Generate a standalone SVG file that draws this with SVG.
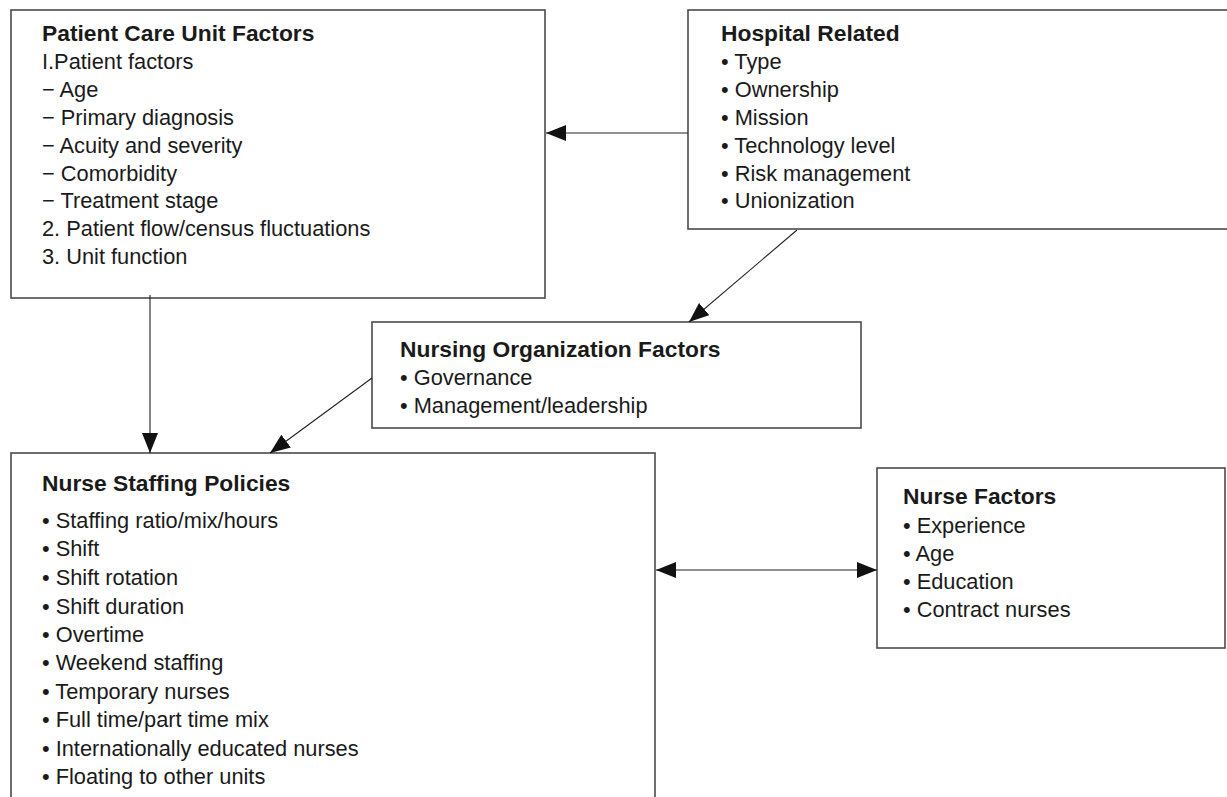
<svg xmlns="http://www.w3.org/2000/svg" width="1227" height="797" viewBox="0 0 1227 797">
<style>
.box{fill:#fff;stroke:#4a4a4a;stroke-width:1.6}
.t{font-family:"Liberation Sans",Arial,sans-serif;font-size:21.8px;fill:#1a1a1a}
.h{font-family:"Liberation Sans",Arial,sans-serif;font-size:22.8px;font-weight:bold;fill:#1a1a1a}
.c{stroke:#222;stroke-width:1.1;fill:none}
</style>
<defs>
<marker id="ah" markerUnits="userSpaceOnUse" markerWidth="22" markerHeight="16" refX="20" refY="8" orient="auto-start-reverse">
<path d="M0,0 L20,8 L0,16 z" fill="#111"/>
</marker>
</defs>
<rect width="1227" height="797" fill="#fff"/>
<g id="pcu">
<rect class="box" x="11" y="10" width="534" height="288"/>
<text class="h" x="42" y="41">Patient Care Unit Factors</text>
<text class="t" x="42" y="69">I.Patient factors</text>
<text class="t" x="42" y="97">− Age</text>
<text class="t" x="42" y="125">−  Primary diagnosis</text>
<text class="t" x="42" y="153">− Acuity and severity</text>
<text class="t" x="42" y="181">−  Comorbidity</text>
<text class="t" x="42" y="208">− Treatment stage</text>
<text class="t" x="42" y="236">2. Patient flow/census fluctuations</text>
<text class="t" x="42" y="264">3. Unit function</text>
</g>
<g id="hospital">
<rect class="box" x="688" y="10" width="545" height="219"/>
<text class="h" x="721" y="41">Hospital Related</text>
<text class="t" x="721" y="69">• Type</text>
<text class="t" x="721" y="97">• Ownership</text>
<text class="t" x="721" y="125">• Mission</text>
<text class="t" x="721" y="153">• Technology level</text>
<text class="t" x="721" y="181">• Risk management</text>
<text class="t" x="721" y="208">• Unionization</text>
</g>
<g id="nursingorg">
<rect class="box" x="372" y="322" width="489" height="106"/>
<text class="h" x="400" y="357">Nursing Organization Factors</text>
<text class="t" x="400" y="385">• Governance</text>
<text class="t" x="400" y="413">• Management/leadership</text>
</g>
<g id="staffing">
<rect class="box" x="11" y="453" width="644" height="360"/>
<text class="h" x="42" y="491">Nurse Staffing Policies</text>
<text class="t" x="42" y="528">• Staffing ratio/mix/hours</text>
<text class="t" x="42" y="556">• Shift</text>
<text class="t" x="42" y="585">• Shift rotation</text>
<text class="t" x="42" y="614">• Shift duration</text>
<text class="t" x="42" y="642">• Overtime</text>
<text class="t" x="42" y="670">• Weekend staffing</text>
<text class="t" x="42" y="699">• Temporary nurses</text>
<text class="t" x="42" y="727">• Full time/part time mix</text>
<text class="t" x="42" y="756">• Internationally educated nurses</text>
<text class="t" x="42" y="784">• Floating to other units</text>
</g>
<g id="nursefactors">
<rect class="box" x="877" y="468" width="348" height="180"/>
<text class="h" x="903" y="504">Nurse Factors</text>
<text class="t" x="903" y="533">• Experience</text>
<text class="t" x="903" y="561">• Age</text>
<text class="t" x="903" y="589">• Education</text>
<text class="t" x="903" y="617">• Contract nurses</text>
</g>
<g id="connectors">
<line class="c" x1="688" y1="133" x2="546" y2="133" marker-end="url(#ah)"/>
<line class="c" x1="797" y1="230" x2="689" y2="322" marker-end="url(#ah)"/>
<line class="c" x1="150" y1="295" x2="150" y2="453" marker-end="url(#ah)"/>
<line class="c" x1="372" y1="378" x2="270" y2="453" marker-end="url(#ah)"/>
<line class="c" x1="656" y1="570" x2="877" y2="570" marker-start="url(#ah)" marker-end="url(#ah)"/>
</g>
</svg>
